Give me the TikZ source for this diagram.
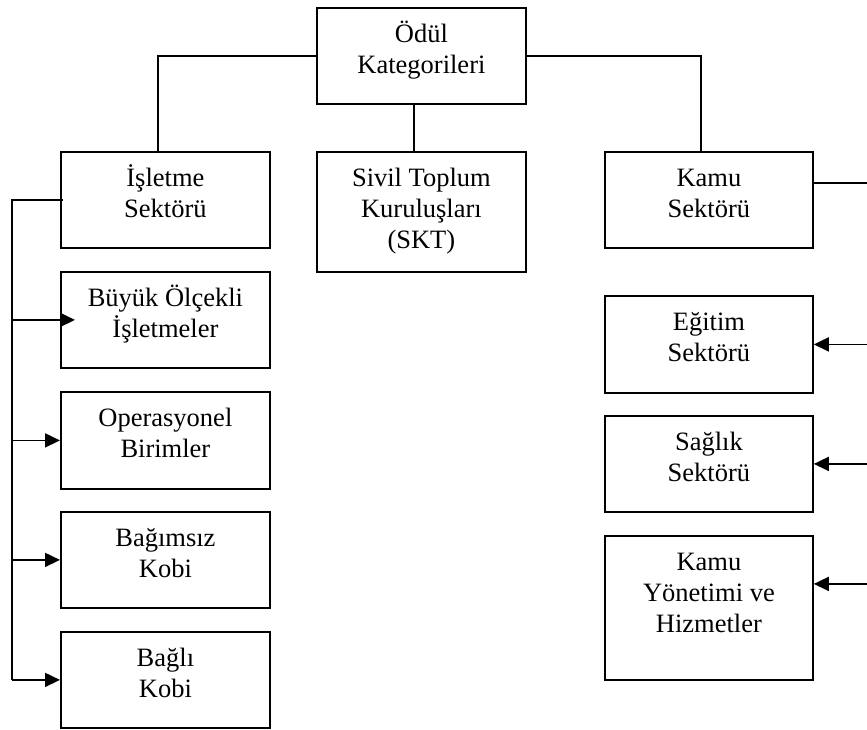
\documentclass[tikz,border=0pt]{standalone}
\usepackage{fontspec}
\setmainfont{Liberation Serif}
\usetikzlibrary{arrows.meta}
\begin{document}
\begin{tikzpicture}[x=1pt,y=-1pt,
  box/.style={draw, line width=1.8pt, rectangle, anchor=north west, inner sep=0pt,
              minimum width=209pt, minimum height=96pt},
  txt/.style={anchor=base, inner sep=0pt,
              font=\fontsize{26.5}{31}\selectfont},
  link/.style={line width=1.8pt},
  arr/.style={line width=1.8pt, -{Triangle[length=15pt,width=14pt]}}
]
\useasboundingbox (0,0) rectangle (867,729);
\clip (0,0) rectangle (867,729);

% top level
\node[box] (cat) at (316,7) {};
\node[txt] (catT) at ([yshift=-35pt]cat.north) {\begin{tabular}[t]{@{}c@{}}Ödül\\Kategorileri\end{tabular}};

% second level
\node[box] (isl) at (60,151) {};
\node[txt] (islT) at ([yshift=-35pt]isl.north) {\begin{tabular}[t]{@{}c@{}}İşletme\\Sektörü\end{tabular}};
\node[box, minimum height=120pt] (skt) at (316,151) {};
\node[txt] (sktT) at ([yshift=-35pt]skt.north) {\begin{tabular}[t]{@{}c@{}}Sivil Toplum\\Kuruluşları\\(SKT)\end{tabular}};
\node[box, minimum width=208pt] (kamu) at (604,151) {};
\node[txt] (kamuT) at ([yshift=-35pt]kamu.north) {\begin{tabular}[t]{@{}c@{}}Kamu\\Sektörü\end{tabular}};

% business sector branches
\node[box] (buyuk) at (60,271) {};
\node[txt] (buyukT) at ([yshift=-35pt]buyuk.north) {\begin{tabular}[t]{@{}c@{}}Büyük Ölçekli\\İşletmeler\end{tabular}};
\node[box, minimum height=97pt] (oper) at (60,391) {};
\node[txt] (operT) at ([yshift=-35pt]oper.north) {\begin{tabular}[t]{@{}c@{}}Operasyonel\\Birimler\end{tabular}};
\node[box] (bagimsiz) at (60,511) {};
\node[txt] (bagimsizT) at ([yshift=-35pt]bagimsiz.north) {\begin{tabular}[t]{@{}c@{}}Bağımsız\\Kobi\end{tabular}};
\node[box] (bagli) at (60,631) {};
\node[txt] (bagliT) at ([yshift=-35pt]bagli.north) {\begin{tabular}[t]{@{}c@{}}Bağlı\\Kobi\end{tabular}};

% public sector branches
\node[box, minimum width=208pt, minimum height=97pt] (egitim) at (604,295) {};
\node[txt] (egitimT) at ([yshift=-35pt]egitim.north) {\begin{tabular}[t]{@{}c@{}}Eğitim\\Sektörü\end{tabular}};
\node[box, minimum width=208pt] (saglik) at (604,415) {};
\node[txt] (saglikT) at ([yshift=-35pt]saglik.north) {\begin{tabular}[t]{@{}c@{}}Sağlık\\Sektörü\end{tabular}};
\node[box, minimum width=208pt, minimum height=144pt] (kyh) at (604,535) {};
\node[txt] (kyhT) at ([yshift=-35pt]kyh.north) {\begin{tabular}[t]{@{}c@{}}Kamu\\Yönetimi ve\\Hizmetler\end{tabular}};

% tree links
\draw[link] (cat.west) -| ([xshift=-7.5pt]isl.north);
\draw[link] (cat.east) -| ([xshift=-8pt]kamu.north);
\draw[link] ([xshift=-7.5pt]cat.south) -- ([xshift=-7.5pt]skt.north);

% left bus
\coordinate (lbus) at ([xshift=-48pt]isl.west);
\draw[link] ([xshift=3pt]isl.west) -- (lbus) -- (lbus |- bagli.west);
\draw[arr, shorten >=-15pt] (lbus |- buyuk.west) -- (buyuk.west);
\draw[arr] (lbus |- oper.west) -- (oper.west);
\draw[arr] (lbus |- bagimsiz.west) -- (bagimsiz.west);
\draw[arr] (lbus |- bagli.west) -- (bagli.west);

% right bus
\coordinate (rstart) at ([yshift=17pt]kamu.east);
\coordinate (rbus) at ([xshift=70pt]rstart);
\draw[link] (rstart) -- (rbus) -- (rbus |- kyh.south);
\draw[arr] (rbus |- egitim.east) -- (egitim.east);
\draw[arr] (rbus |- saglik.east) -- (saglik.east);
\draw[arr] ([yshift=24pt]kyh.east -| rbus) -- ([yshift=24pt]kyh.east);
\end{tikzpicture}
\end{document}
